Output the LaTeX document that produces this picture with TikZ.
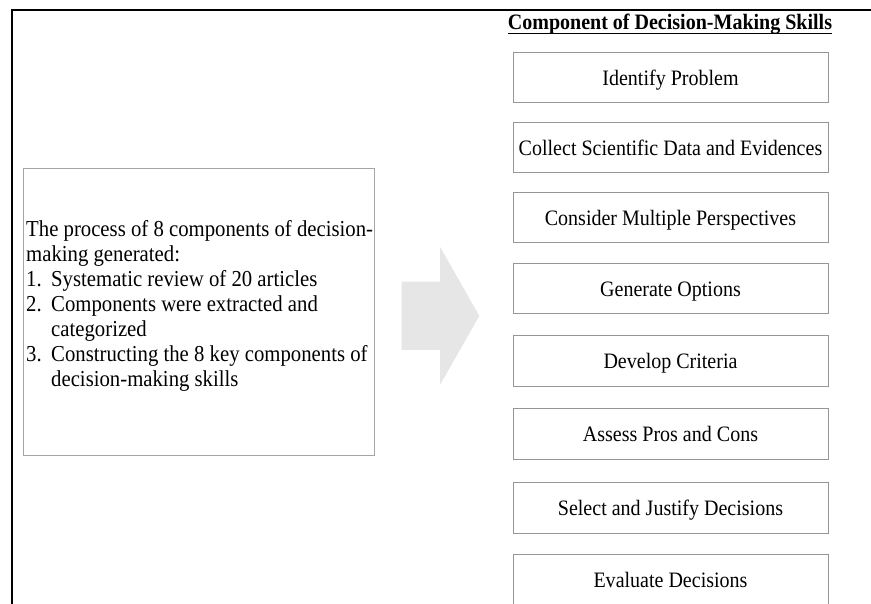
\documentclass[tikz,border=0pt]{standalone}
\usepackage{fontspec}
\setmainfont{Liberation Serif}[FakeStretch=0.91]
\definecolor{boxgray}{RGB}{150,150,150}
\definecolor{procgray}{RGB}{165,165,165}
\definecolor{arrowgray}{RGB}{230,230,230}
\begin{document}
\begin{tikzpicture}[x=1pt,y=-1pt,
  comp/.style={draw=boxgray, line width=0.9pt, minimum width=315pt, minimum height=50.5pt,
    inner sep=0pt, anchor=north, text height=18pt, text depth=3pt,
    font=\fontsize{22}{25}\selectfont},
  procbox/.style={draw=procgray, line width=0.9pt, minimum width=351pt, minimum height=287pt,
    inner sep=0pt, anchor=north west},
  proctext/.style={inner sep=0pt, align=left, anchor=north west,
    font=\fontsize{22.8}{25}\selectfont},
  titletext/.style={anchor=base, inner sep=0pt, font=\fontsize{22}{25}\selectfont\bfseries},
  framebar/.style={line width=2.2pt, black},
  bigarrow/.style={fill=arrowgray, draw=none}
]
\useasboundingbox (0,0) rectangle (871,604);
% frame
\draw[framebar] (12,605) -- (12,10) -- (871,10);

% left process box
\node[procbox] (proc) at (22.5,168) {};
\node[proctext] (proctxt) at (26,220.5) {The process of 8 components of decision-\\
making generated:\\
\makebox[25pt][l]{1.}Systematic review of 20 articles\\
\makebox[25pt][l]{2.}Components were extracted and\\
\hspace*{25pt}categorized\\
\makebox[25pt][l]{3.}Constructing the 8 key components of\\
\hspace*{25pt}decision-making skills};

% block arrow
\fill[bigarrow] (401.7,281.7) -- (440,281.7) -- (440,246.7) -- (479.3,315.8)
  -- (440,385) -- (440,350) -- (401.7,350) -- cycle;

% title
\node[titletext] (title) at (670,30) {Component of Decision-Making Skills};
\draw[line width=1.3pt] ([yshift=-3.6pt]title.base west) -- ([yshift=-3.6pt]title.base east);

% component boxes
\node[comp] (c1) at (670.5,52) {Identify Problem};
\node[comp] (c2) at (670.5,122) {Collect Scientific Data and Evidences};
\node[comp] (c3) at (670.5,192) {Consider Multiple Perspectives};
\node[comp] (c4) at (670.5,263) {Generate Options};
\node[comp] (c5) at (670.5,335) {Develop Criteria};
\node[comp] (c6) at (670.5,408) {Assess Pros and Cons};
\node[comp] (c7) at (670.5,482) {Select and Justify Decisions};
\node[comp] (c8) at (670.5,554) {Evaluate Decisions};
\end{tikzpicture}
\end{document}
